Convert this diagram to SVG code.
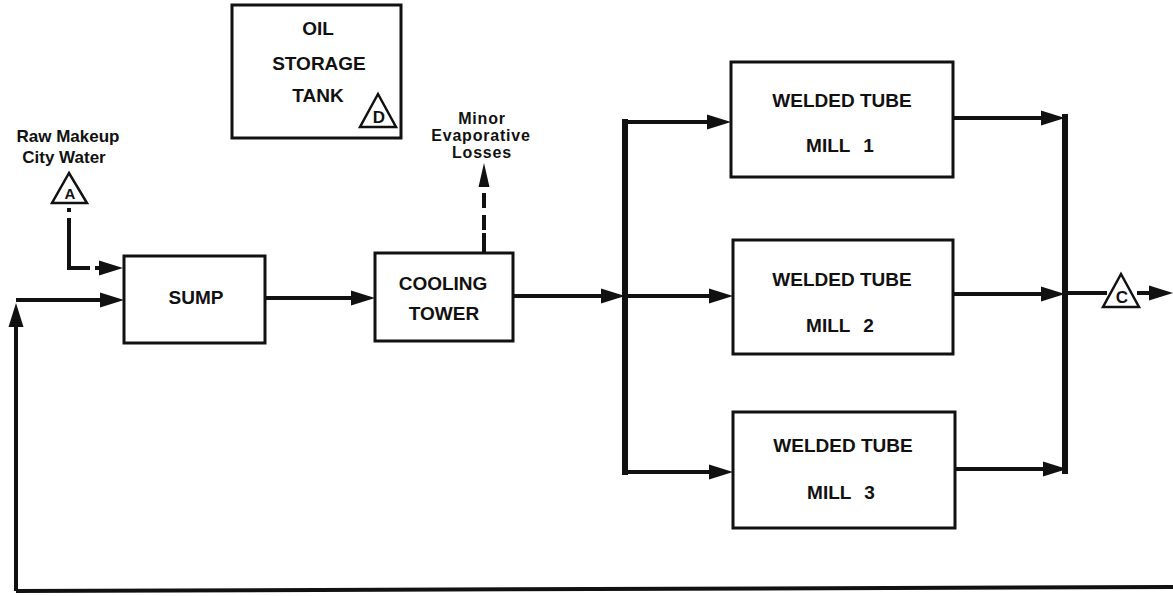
<svg xmlns="http://www.w3.org/2000/svg" width="1173" height="596" viewBox="0 0 1173 596">
<style>
  .box { fill: #fff; stroke: #111; stroke-width: 3; }
  .tri { fill: #fff; stroke: #111; stroke-width: 2.5; stroke-linejoin: miter; }
  .lbl { font-family: "Liberation Sans", Arial, sans-serif; font-weight: bold; font-size: 19px; fill: #111; text-anchor: middle; }
  .sm { font-size: 17px; }
  .ev { font-size: 16px; letter-spacing: 0.8px; }
  .mill { word-spacing: 8px; }
  .flow { fill: none; stroke: #111; stroke-width: 4; marker-end: url(#arr); }
  .bus { fill: none; stroke: #111; stroke-width: 6; stroke-linecap: square; }
  .plain { fill: none; stroke: #111; stroke-width: 4; }
  .dash { fill: none; stroke: #111; stroke-width: 4; }
</style>
<defs>
  <marker id="arr" markerUnits="userSpaceOnUse" markerWidth="26" markerHeight="16" refX="14" refY="7.5" orient="auto" overflow="visible">
    <path d="M0,0 L24,7.5 L0,15 Z" fill="#111"/>
  </marker>
  <marker id="arrs" markerUnits="userSpaceOnUse" markerWidth="26" markerHeight="12" refX="14" refY="5.5" orient="auto" overflow="visible">
    <path d="M0,0 L24,5.5 L0,11 Z" fill="#111"/>
  </marker>
</defs>
<rect width="1173" height="596" fill="#fff"/>

<g id="connectors">
  <!-- makeup water A to sump (dashed) -->
  <path class="dash" d="M69,208 L69,268 L113,268" stroke-dasharray="4 6 71 5 18" marker-end="url(#arr)"/>
  <!-- return line -->
  <path class="plain" d="M16,591 L1173,587"/>
  <path class="plain" d="M16,591 L16,313" marker-end="url(#arr)"/>
  <path class="flow" d="M16,300 L114,300"/>
  <!-- sump to cooling tower -->
  <path class="flow" d="M265,298 L365,298"/>
  <!-- evaporative losses -->
  <path class="dash" d="M484,253 L484,173" stroke-dasharray="20 3 15 7 15 20" marker-end="url(#arrs)"/>
  <!-- cooling tower to split -->
  <path class="flow" d="M513,296 L615,296"/>
  <!-- split bus -->
  <path class="bus" d="M625,122 L625,472"/>
  <path class="flow" d="M625,122 L721,122"/>
  <path class="flow" d="M625,296 L723,296"/>
  <path class="flow" d="M625,472 L723,472"/>
  <!-- mill outputs -->
  <path class="flow" d="M953,118 L1055,118"/>
  <path class="flow" d="M953,294 L1055,294"/>
  <path class="flow" d="M955,469 L1057,469"/>
  <path class="bus" d="M1065,117 L1065,471"/>
  <!-- output C -->
  <path class="plain" d="M1065,293 L1107,293"/>
  <path class="flow" d="M1137,293 L1163,293"/>
</g>

<g id="node-oil-storage-tank">
  <rect class="box" x="232" y="5" width="169" height="133"/>
  <text class="lbl" x="318" y="35">OIL</text>
  <text class="lbl" x="319" y="70">STORAGE</text>
  <text class="lbl" x="318" y="102">TANK</text>
  <polygon class="tri" points="378,94 360,127 396,127"/>
  <text class="lbl sm" x="379" y="123">D</text>
</g>

<g id="node-raw-makeup">
  <text class="lbl sm" x="68" y="142">Raw Makeup</text>
  <text class="lbl sm" x="64" y="163">City Water</text>
  <polygon class="tri" points="69,173 52,203 87,203"/>
  <text class="lbl" x="70" y="199" style="font-size:15px">A</text>
</g>

<g id="node-sump">
  <rect class="box" x="124" y="256" width="141" height="87"/>
  <text class="lbl" x="196" y="304">SUMP</text>
</g>

<g id="node-cooling-tower">
  <rect class="box" x="375" y="253" width="138" height="88"/>
  <text class="lbl" x="443" y="290">COOLING</text>
  <text class="lbl" x="444" y="320">TOWER</text>
</g>

<g id="node-evaporative-losses">
  <text class="lbl ev" x="482" y="124">Minor</text>
  <text class="lbl ev" x="481" y="141">Evaporative</text>
  <text class="lbl ev" x="482" y="158">Losses</text>
</g>

<g id="node-mill-1">
  <rect class="box" x="731" y="62" width="222" height="115"/>
  <text class="lbl" x="842" y="107">WELDED TUBE</text>
  <text class="lbl mill" x="840" y="152">MILL 1</text>
</g>

<g id="node-mill-2">
  <rect class="box" x="733" y="240" width="220" height="114"/>
  <text class="lbl" x="842" y="286">WELDED TUBE</text>
  <text class="lbl mill" x="840" y="332">MILL 2</text>
</g>

<g id="node-mill-3">
  <rect class="box" x="733" y="412" width="222" height="116"/>
  <text class="lbl" x="843" y="452">WELDED TUBE</text>
  <text class="lbl mill" x="841" y="499">MILL 3</text>
</g>

<g id="node-c">
  <polygon class="tri" points="1121,274 1103,307 1139,307"/>
  <text class="lbl sm" x="1122" y="303">C</text>
</g>
</svg>
